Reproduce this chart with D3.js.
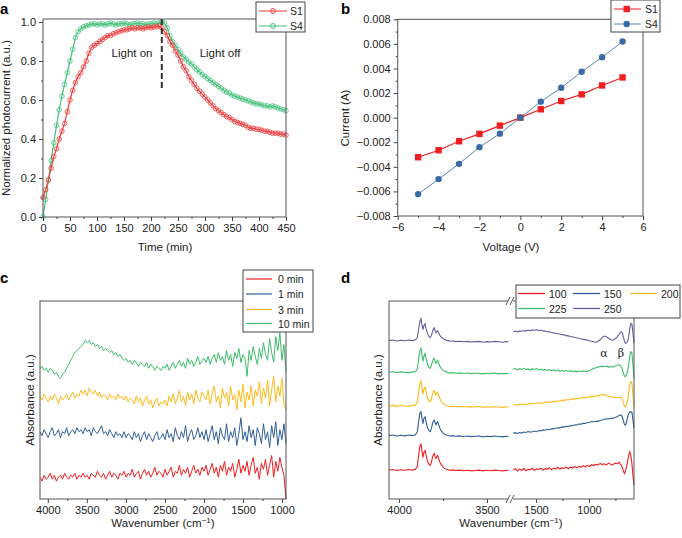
<!DOCTYPE html>
<html>
<head>
<meta charset="utf-8">
<script src="https://cdn.jsdelivr.net/npm/d3@7"></script>
<style>
  body { margin: 0; background: #fff; }
  svg { font-family: "Liberation Sans", Arial, sans-serif; }
  .tick text { font-size: 11px; fill: #222; }
  .domain { display: none; }
  .tick line { stroke: #444; }
  .title { font-size: 11.5px; fill: #222; }
  .panel { font-size: 15px; font-weight: bold; fill: #000; }
</style>
</head>
<body>
<svg id="fig" width="682" height="538"></svg>
<script>
// ---------- panel a : normalized photocurrent, one value every 5 min ----------
const timeA = d3.range(0, 451, 5);
const s1A = [0.10,0.14,0.19,0.25,0.31,0.35,0.40,0.44,0.48,0.54,0.60,0.65,0.69,0.72,0.74,0.77,0.80,0.84,0.87,0.88,
  0.89,0.90,0.91,0.92,0.93,0.93,0.94,0.945,0.95,0.955,0.96,0.96,0.965,0.97,0.965,0.97,0.97,0.965,0.97,0.975,
  0.97,0.975,0.975,0.98,0.97,0.95,0.93,0.90,0.88,0.85,0.83,0.80,0.77,0.75,0.72,0.70,0.68,0.66,0.645,0.63,
  0.615,0.60,0.585,0.57,0.555,0.545,0.535,0.525,0.515,0.51,0.50,0.49,0.485,0.48,0.475,0.47,0.46,0.455,0.455,0.45,
  0.45,0.445,0.44,0.44,0.435,0.43,0.43,0.43,0.425,0.425,0.42];
const s4A = [0.00,0.09,0.19,0.29,0.38,0.47,0.55,0.62,0.68,0.74,0.80,0.86,0.92,0.95,0.965,0.975,0.98,0.985,0.99,0.99,
  0.985,0.99,0.99,0.985,0.99,0.995,0.99,0.985,0.99,0.99,0.995,0.99,0.985,0.99,0.99,0.995,0.99,0.99,0.985,0.99,
  0.99,0.995,0.99,0.995,1.0,0.995,0.97,0.93,0.90,0.88,0.86,0.84,0.82,0.81,0.795,0.785,0.77,0.755,0.745,0.73,
  0.72,0.71,0.70,0.69,0.68,0.67,0.66,0.65,0.64,0.635,0.625,0.62,0.615,0.61,0.605,0.60,0.595,0.59,0.585,0.58,
  0.58,0.575,0.57,0.57,0.565,0.57,0.565,0.56,0.555,0.55,0.545];
const lightOffAt = 220;

// ---------- panel b : I-V ----------
const voltB = [-5,-4,-3,-2,-1,0,1,2,3,4,5];
const s1B = [-0.00322,-0.00265,-0.00192,-0.00132,-0.00065,0,0.00068,0.00135,0.00189,0.00262,0.00327];
const s4B = [-0.00622,-0.0050,-0.00376,-0.0024,-0.0013,0,0.0013,0.00243,0.00373,0.00492,0.00619];

// ---------- panel c : spectra sampled every 26.25 cm-1 from 4100 to 950, offset for clarity ----------
const waveC = d3.range(121).map((i) => 4100 - 26.25 * i);
const min0C = [11,9,12,10,11,13,10,12,9,11,12,10,13,11,10,12,11,13,10,12,11,
  13,11,12,10,13,12,11,14,12,11,13,10,12,14,11,13,12,10,13,12,
  14,11,13,12,15,11,13,14,10,13,15,12,14,11,13,16,12,14,13,11,
  15,12,14,16,11,14,13,17,12,15,13,16,11,14,17,13,15,12,16,14,
  17,12,15,18,13,16,11,17,14,19,12,16,14,18,11,15,20,13,17,14,
  19,12,17,21,13,16,10,18,15,20,12,17,22,11,19,14,21,16,12,0];
const min1C = [34,32,35,33,31,34,36,32,33,35,31,34,33,36,32,34,35,33,36,34,35,
  33,36,34,35,32,36,34,33,35,37,33,34,32,35,33,31,34,32,33,31,
  34,31,33,32,30,34,31,33,29,32,34,30,33,31,29,32,34,30,31,33,
  30,35,31,33,29,36,32,30,34,31,37,29,33,35,30,32,36,31,34,30,
  35,29,33,37,30,34,28,36,32,30,38,29,34,31,36,27,33,41,30,34,
  29,37,31,35,27,36,33,28,38,30,34,26,37,31,39,27,35,30,38,28];
const min3C = [52,50,53,51,49,52,50,53,51,48,52,50,51,53,50,52,54,51,53,52,55,
  53,55,52,56,54,53,55,52,54,51,53,52,50,53,51,52,50,53,51,52,
  50,52,49,51,50,48,52,49,51,47,50,52,48,50,46,49,51,47,49,48,
  50,47,52,49,53,48,51,55,49,52,47,54,50,53,48,55,51,49,54,52,
  50,55,48,53,57,49,52,46,56,51,54,47,57,50,53,45,55,49,58,46,
  54,50,57,47,55,52,59,48,56,51,60,47,55,62,49,57,52,61,48,45];
const min10C = [66,67,65,66,64,66,65,63,64,62,61,63,64,66,68,70,72,74,75,76,77,
  78,80,79,80,78,79,77,78,76,77,75,76,75,74,75,73,74,72,73,71,
  70,71,69,70,68,70,69,67,69,68,67,69,66,68,67,65,67,66,65,67,
  66,68,65,67,69,66,68,70,67,69,66,71,68,70,67,69,72,68,70,71,
  69,72,68,71,73,69,74,70,72,68,75,70,73,67,74,71,76,69,73,71,
  62,75,70,77,72,68,76,71,79,73,70,81,74,69,82,75,84,70,78,64];
const labelsC = ["0 min", "1 min", "3 min", "10 min"];

// ---------- panel d : spectra on a broken wavenumber axis ----------
const waveDL = [4057,4035,4012,3990,3968,3946,3923,3907,3896,3888,3881,3875,3870,3864,3859,3852,3846,3838,3830,3823,
  3816,3810,3804,3800,3795,3790,3785,3781,3775,3769,3761,3752,3743,3734,3723,3712,3695,3678,3656,3634,
  3612,3589,3567,3545,3523,3500,3478,3456,3434,3411,3389,3378];
const waveDR = [1715,1695,1675,1655,1635,1615,1595,1575,1555,1535,1515,1495,1475,1455,1435,1415,1395,1375,1355,1335,
  1315,1295,1275,1255,1235,1215,1195,1175,1155,1135,1115,1095,1075,1055,1035,1015,995,975,955,935,
  915,895,875,855,835,815,795,775,755,735,725,715,705,695,685,675,665,655,645,635,625,615,605,595,585,575];

const t100L = [14.6,14.9,14.4,14.8,14.5,14.9,14.6,15.0,16.5,22.5,27,27.6,24.5,21,23.5,24.5,22,19,17.5,17,
  18.5,21,22.5,23,21.5,20.5,21.5,22,20.5,18.8,17.5,16.4,15.6,15.1,14.8,14.5,14.7,14.4,14.6,14.3,
  14.5,14.2,14.4,14.6,14.2,14.5,14.3,14.6,14.4,14.2,14.5,14.4];
const t150L = [32.0,32.3,31.8,32.2,31.9,32.3,32.0,32.4,34,39.5,43.5,44,41,38,40.5,41.5,39,36,34.5,34,
  35.5,38,39.5,39.8,38.5,37.5,38.5,39,37.5,36,34.5,33.5,32.8,32.4,32.1,31.8,32.0,31.7,31.9,31.6,
  31.8,31.5,31.7,31.8,31.4,31.7,31.5,31.8,31.6,31.4,31.7,31.6];
const t200L = [47.0,47.3,46.8,47.2,47.0,46.8,47.3,47.4,49,54.5,58.5,59.5,56.5,53,55.5,56.5,54,51,49.5,49,
  50.5,53,54.5,54.8,53.5,52.5,53.5,54,52.5,51,49.5,48.5,47.8,47.3,47.0,46.7,46.9,46.6,46.8,46.5,
  46.7,46.4,46.6,46.7,46.3,46.6,46.4,46.7,46.5,46.3,46.6,46.5];
const t225L = [64.0,64.3,63.8,64.2,64.0,63.7,64.2,64.3,65.8,71,75,76,73,69.5,72,73.5,71,68,66.5,66,
  67.5,69.5,70.8,71,69.5,68.5,69.5,70,68.8,67.3,66,65.2,64.6,64.2,63.9,63.6,63.8,63.5,63.7,63.4,
  63.6,63.3,63.6,63.4,63.2,63.5,63.3,63.6,63.2,63.4,63.3,63.5];
const t250L = [80.0,80.3,79.8,80.2,79.9,80.3,80.0,80.4,81.5,86,90,91,88,85.5,87.5,88.5,86,83.5,82,81.5,
  82.5,84.5,86,86.5,85,84,84.8,85,84,82.8,81.8,81.2,80.7,80.3,80.0,79.7,79.9,79.5,79.7,79.4,
  79.6,79.3,79.5,79.6,79.2,79.5,79.3,79.6,79.4,79.2,79.5,79.4];

const t100R = [14.6,15.3,14.2,15.1,14.5,15.4,14.3,15.0,14.7,15.5,14.4,15.2,14.9,15.6,14.6,15.3,15.0,15.8,14.8,15.5,
  15.2,16.0,15.1,15.7,15.4,16.2,15.3,16.1,15.6,16.4,15.7,16.5,16.0,16.8,16.2,17.0,16.4,17.3,16.9,17.5,
  17.2,18.0,17.4,17.8,17.1,18.2,17.5,17.2,18.1,17.8,18.0,18.6,17.6,17.1,16.0,14.0,12.9,14.0,16.3,19.0,
  22,23.8,22.0,18.0,12,7];
const t150R = [33.2,33.5,33.1,33.6,33.3,33.8,33.6,34.1,33.8,34.0,34.3,34.0,34.6,34.4,34.9,34.7,35.2,35.0,35.5,35.4,
  35.7,36.0,35.9,36.4,36.3,36.7,36.6,37.1,37.0,37.5,37.4,37.9,37.8,38.2,38.1,38.6,38.8,39.1,39.0,39.3,
  39.2,39.6,39.9,40.3,40.5,40.4,40.8,40.7,41.2,41.5,41.9,42.2,42.4,42.3,41.5,39.5,37.6,37.4,39.0,41.6,
  43.0,44.0,44.1,43.8,40,35.7];
const t200R = [47.5,47.8,47.3,47.9,47.6,48.0,47.7,48.2,47.8,48.3,48.1,48.5,48.2,48.7,48.4,48.9,48.6,49.1,48.8,49.3,
  49.2,49.6,49.4,49.9,49.7,50.2,50.0,50.5,50.3,50.8,50.6,51.0,50.9,51.3,51.1,51.5,51.4,51.8,51.7,52.1,
  52.0,52.5,52.8,52.6,52.3,51.9,51.7,51.4,51.5,51.3,51.4,51.2,51.5,51.3,50.5,48.5,46.8,46.6,48.0,50.0,
  54,57.5,59.3,58.5,53,46.6];
const t225R = [65.5,65.9,65.2,65.8,65.4,66.0,65.3,65.7,65.1,65.8,65.4,65.9,65.2,65.6,65.0,65.5,64.9,65.3,64.8,65.2,
  64.7,65.1,64.6,65.0,64.5,64.9,64.4,64.8,64.3,64.7,64.2,64.6,64.3,64.7,64.4,64.6,64.9,65.4,65.9,66.3,
  66.6,66.9,67.1,66.8,67.2,66.5,66.9,66.6,67.2,67.5,67.7,67.9,67.5,66.8,65.5,63.5,62.0,61.9,63.0,64.4,
  68,72,74.4,74,68,61];
const t250R = [84.5,84.8,84.4,84.9,84.7,85.1,84.8,85.3,85.0,85.4,85.2,85.5,85.1,85.3,84.9,84.8,84.5,84.4,84.1,83.9,
  83.7,83.5,83.3,83.0,82.9,82.5,82.4,82.1,81.9,81.6,81.4,81.1,80.9,80.6,80.5,80.2,79.9,79.7,79.4,79.2,
  79.6,80.4,81.5,82.3,82.0,81.2,80.4,80.2,80.8,81.8,82.5,83.2,84.0,84.5,84.0,82.0,79.5,78.6,79.0,79.5,
  82,86,88.7,88.3,84,78.6];
const labelsD = ["100", "150", "200", "225", "250"];

const RED = "#f01e23", BLUE = "#2f5f98", YELLOW = "#fdbb1b", GREEN = "#3cbd6b", PURPLE = "#5f5e9c";

const svg = d3.select("#fig");

// helpers
const frame = (x0, y0, x1, y1) =>
  svg.append("rect").attr("x", x0).attr("y", y0).attr("width", x1 - x0).attr("height", y1 - y0)
    .attr("fill", "none").attr("stroke", "#555").attr("stroke-width", 1);

const xAxis = (scale, y, major, minor, fmt) => {
  svg.append("g").attr("transform", `translate(0,${y})`)
    .call(d3.axisBottom(scale).tickValues(major).tickSize(4).tickPadding(3).tickFormat(fmt));
  svg.append("g").attr("transform", `translate(0,${y})`)
    .call(d3.axisBottom(scale).tickValues(minor).tickSize(2).tickFormat(""));
};
const yAxis = (scale, x, major, minor, fmt) => {
  svg.append("g").attr("transform", `translate(${x},0)`)
    .call(d3.axisLeft(scale).tickValues(major).tickSize(4).tickPadding(3).tickFormat(fmt));
  svg.append("g").attr("transform", `translate(${x},0)`)
    .call(d3.axisLeft(scale).tickValues(minor).tickSize(2).tickFormat(""));
};
const text = (x, y, s, cls, anchor = "middle", rot = 0) => {
  const t = svg.append("text").attr("class", cls).attr("text-anchor", anchor)
    .attr("transform", `translate(${x},${y}) rotate(${rot})`);
  return t.text(s);
};
const legendBox = (x0, y0, x1, y1) =>
  svg.append("rect").attr("x", x0).attr("y", y0).attr("width", x1 - x0).attr("height", y1 - y0)
    .attr("fill", "#fff").attr("stroke", "#444").attr("stroke-width", 1);

// ================= a =================
const xA = d3.scaleLinear().domain([0, 450]).range([43, 286]);
const yA = d3.scaleLinear().domain([0, 1]).range([217, 22]);
const seriesA = [
  { vals: s4A, color: "#45c07c" },
  { vals: s1A, color: "#ef3b3b" }
];
seriesA.forEach((s) => {
  const pts = timeA.map((t, i) => [xA(t), yA(s.vals[i])]);
  svg.append("path").attr("d", d3.line()(pts)).attr("fill", "none")
    .attr("stroke", s.color).attr("stroke-width", 1.2);
  svg.append("g").selectAll("circle").data(pts).join("circle")
    .attr("cx", (d) => d[0]).attr("cy", (d) => d[1]).attr("r", 2.3)
    .attr("fill", "none").attr("stroke", s.color).attr("stroke-width", 1).attr("opacity", 0.8);
});
svg.append("line").attr("x1", xA(lightOffAt)).attr("x2", xA(lightOffAt))
  .attr("y1", 19).attr("y2", yA(0.66))
  .attr("stroke", "#333").attr("stroke-width", 2).attr("stroke-dasharray", "6,3");
text(132, 57, "Light on", "title");
text(220, 57, "Light off", "title");
frame(43, 19, 286, 217);
xAxis(xA, 217, d3.range(0, 451, 50), d3.range(25, 450, 50), d3.format("d"));
yAxis(yA, 43, d3.range(0, 1.01, 0.2), d3.range(0.1, 1.0, 0.2), d3.format(".1f"));
text(165, 251, "Time (min)", "title");
text(10, 118, "Normalized photocurrent (a.u.)", "title", "middle", -90);
legendBox(256, 2, 305, 32);
[["S1", "#ef3b3b", 11], ["S4", "#45c07c", 26]].forEach(([lab, c, y]) => {
  svg.append("line").attr("x1", 259).attr("x2", 287).attr("y1", y).attr("y2", y).attr("stroke", c);
  svg.append("circle").attr("cx", 273).attr("cy", y).attr("r", 2.4).attr("fill", "none").attr("stroke", c);
  svg.append("text").attr("x", 290).attr("y", y + 4).attr("class", "title").style("font-size", "10.5px").text(lab);
});
svg.append("text").attr("class", "panel").attr("x", 0).attr("y", 14).text("a");

// ================= b =================
const xB = d3.scaleLinear().domain([-6, 6]).range([397.7, 643]);
const yB = d3.scaleLinear().domain([-0.008, 0.008]).range([216, 19.3]);
frame(397.7, 19.3, 643, 216);
xAxis(xB, 216, d3.range(-6, 7, 2), d3.range(-5, 6, 2), d3.format("d"));
yAxis(yB, 397.7, d3.range(-0.008, 0.0081, 0.002), d3.range(-0.007, 0.008, 0.002), d3.format(".3f"));
const lineB = d3.line().x((d) => xB(d[0])).y((d) => yB(d[1]));
svg.append("path").attr("d", lineB(voltB.map((v, i) => [v, s4B[i]])))
  .attr("fill", "none").attr("stroke", "#5b84b8").attr("stroke-width", 1);
svg.append("path").attr("d", lineB(voltB.map((v, i) => [v, s1B[i]])))
  .attr("fill", "none").attr("stroke", "#f01e23").attr("stroke-width", 1.2);
svg.append("g").selectAll("rect").data(voltB).join("rect")
  .attr("x", (v, i) => xB(v) - 3.2).attr("y", (v, i) => yB(s1B[i]) - 3.2)
  .attr("width", 6.4).attr("height", 6.4).attr("fill", "#f01e23");
svg.append("g").selectAll("circle").data(voltB).join("circle")
  .attr("cx", (v) => xB(v)).attr("cy", (v, i) => yB(s4B[i])).attr("r", 3.2).attr("fill", "#3a6aa4");
text(511, 251, "Voltage (V)", "title");
text(349, 118, "Current (A)", "title", "middle", -90);
legendBox(611, 0, 660, 32);
svg.append("line").attr("x1", 614).attr("x2", 641).attr("y1", 9).attr("y2", 9).attr("stroke", "#f01e23");
svg.append("rect").attr("x", 623.5).attr("y", 5.8).attr("width", 6.4).attr("height", 6.4).attr("fill", "#f01e23");
svg.append("line").attr("x1", 614).attr("x2", 641).attr("y1", 24).attr("y2", 24).attr("stroke", "#5b84b8");
svg.append("circle").attr("cx", 626.7).attr("cy", 24).attr("r", 3.2).attr("fill", "#3a6aa4");
svg.append("text").attr("x", 645).attr("y", 13).attr("class", "title").style("font-size", "10.5px").text("S1");
svg.append("text").attr("x", 645).attr("y", 28).attr("class", "title").style("font-size", "10.5px").text("S4");
svg.append("text").attr("class", "panel").attr("x", 341).attr("y", 14).text("b");

// ================= c =================
const xC = d3.scaleLinear().domain([4100, 950]).range([40, 286]);
const yC = d3.scaleLinear().domain([0, 100]).range([499, 301]);
const colorsC = [RED, BLUE, YELLOW, GREEN];
const lineC = d3.line().x((d) => xC(d[0])).y((d) => yC(d[1]));
[min0C, min1C, min3C, min10C].forEach((vals, k) => {
  svg.append("path").attr("d", lineC(waveC.map((w, i) => [w, vals[i]])))
    .attr("fill", "none").attr("stroke", colorsC[k]).attr("stroke-width", 1);
});
frame(40, 301, 286, 499);
xAxis(xC, 499, d3.range(4000, 999, -500), d3.range(3750, 1000, -500), d3.format("d"));
const wnTitle = (x) => {
  const t = svg.append("text").attr("class", "title").attr("text-anchor", "middle")
    .attr("x", x).attr("y", 527);
  t.append("tspan").text("Wavenumber (cm");
  t.append("tspan").attr("dy", -4).style("font-size", "8px").text("−1");
  t.append("tspan").attr("dy", 4).text(")");
};
wnTitle(163);
text(34, 400, "Absorbance (a.u.)", "title", "middle", -90);
legendBox(243, 270, 313, 332);
labelsC.forEach((lab, k) => {
  const y = [279, 294, 309.5, 323.5][k];
  svg.append("line").attr("x1", 246).attr("x2", 272).attr("y1", y).attr("y2", y)
    .attr("stroke", colorsC[k]).attr("stroke-width", 1.2);
  svg.append("text").attr("x", 278).attr("y", y + 4).attr("class", "title").style("font-size", "10.5px").text(lab);
});
svg.append("text").attr("class", "panel").attr("x", 0).attr("y", 283).text("c");

// ================= d =================
const xDL = d3.scaleLinear().domain([4057, 3375]).range([389, 509]);
const xDR = d3.scaleLinear().domain([1717, 575]).range([513, 634]);
const yD = d3.scaleLinear().domain([0, 100]).range([499, 301]);
const colorsD = [RED, BLUE, YELLOW, GREEN, PURPLE];
const leftD = [t100L, t150L, t200L, t225L, t250L];
const rightD = [t100R, t150R, t200R, t225R, t250R];
leftD.forEach((vals, k) => {
  const l = d3.line().x((d) => xDL(d[0])).y((d) => yD(d[1]));
  svg.append("path").attr("d", l(waveDL.map((w, i) => [w, vals[i]])))
    .attr("fill", "none").attr("stroke", colorsD[k]).attr("stroke-width", 1.1);
  const r = d3.line().x((d) => xDR(d[0])).y((d) => yD(d[1]));
  svg.append("path").attr("d", r(waveDR.map((w, i) => [w, rightD[k][i]])))
    .attr("fill", "none").attr("stroke", colorsD[k]).attr("stroke-width", 1.1);
});
frame(389, 301, 634, 499);
// axis break
[301, 499].forEach((y) => {
  svg.append("rect").attr("x", 508).attr("y", y - 2).attr("width", 5).attr("height", 4).attr("fill", "#fff");
  [506, 510].forEach((x) => {
    svg.append("line").attr("x1", x).attr("x2", x + 4).attr("y1", y + 4).attr("y2", y - 4)
      .attr("stroke", "#555").attr("stroke-width", 1);
  });
});
xAxis(xDL, 499, [4000, 3500], [3750], d3.format("d"));
xAxis(xDR, 499, [1500, 1000], [1250, 750], d3.format("d"));
wnTitle(511);
text(382, 400, "Absorbance (a.u.)", "title", "middle", -90);
svg.append("text").attr("x", 604).attr("y", 357).attr("text-anchor", "middle")
  .style("font-family", "'DejaVu Serif', serif").style("font-size", "11px").attr("fill", "#222").text("α");
svg.append("text").attr("x", 621).attr("y", 357).attr("text-anchor", "middle")
  .style("font-family", "'DejaVu Serif', serif").style("font-size", "11px").attr("fill", "#222").text("β");
legendBox(516, 285, 680, 318);
labelsD.forEach((lab, k) => {
  const col = k % 3, row = Math.floor(k / 3);
  const x0 = [518, 573, 630][col];
  const y = [293.5, 308.5][row];
  svg.append("line").attr("x1", x0).attr("x2", x0 + 27).attr("y1", y).attr("y2", y)
    .attr("stroke", colorsD[k]).attr("stroke-width", 1.3);
  svg.append("text").attr("x", x0 + 31).attr("y", y + 4).attr("class", "title").style("font-size", "10.5px").text(lab);
});
svg.append("text").attr("class", "panel").attr("x", 341).attr("y", 283).text("d");
</script>
</body>
</html>
